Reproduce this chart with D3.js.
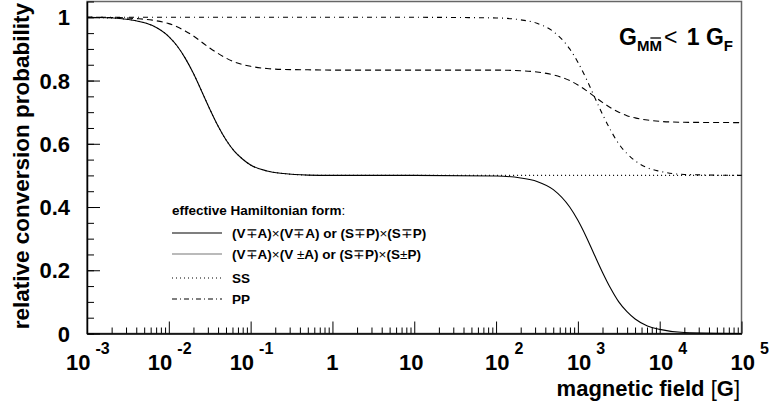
<!DOCTYPE html>
<html><head><meta charset="utf-8">
<script src="https://cdn.jsdelivr.net/npm/d3@7"></script>
<style>
body{margin:0;background:#fff;}
text{font-family:"Liberation Sans",Arial,sans-serif;}
</style></head>
<body><svg id="c" width="769" height="408"></svg>
<script>
// ---- data (log10 of magnetic field in G, relative conversion probability) ----
const logField = [-3,-2.6,-2.4,-2.2,-2.0,-1.9,-1.8,-1.7,-1.6,-1.5,-1.4,-1.3,-1.2,-1.1,-1.0,-0.8,-0.6,-0.3,0,1,2.0,2.3,2.5,2.7,2.9,3.0,3.1,3.2,3.3,3.4,3.5,3.6,3.7,3.85,4.0,4.3,5.0];
const vaSame = [1,0.996,0.989,0.974,0.939,0.910,0.871,0.823,0.767,0.710,0.657,0.612,0.577,0.552,0.533,0.514,0.506,0.501,0.5,0.5,0.498,0.492,0.481,0.455,0.40,0.358,0.307,0.25,0.194,0.143,0.10,0.069,0.046,0.024,0.013,0.003,0];
const vaOpp  = [1,0.999,0.996,0.991,0.98,0.97,0.957,0.941,0.922,0.903,0.886,0.871,0.859,0.851,0.845,0.838,0.835,0.834,0.833,0.833,0.833,0.831,0.827,0.818,0.80,0.786,0.769,0.75,0.731,0.714,0.70,0.689,0.682,0.675,0.671,0.668,0.667];
const ssVals = [1,0.996,0.989,0.974,0.939,0.910,0.871,0.823,0.767,0.710,0.657,0.612,0.577,0.552,0.533,0.514,0.506,0.501,0.5,0.5,0.5,0.5,0.5,0.5,0.5,0.5,0.5,0.5,0.5,0.5,0.5,0.5,0.5,0.5,0.5,0.5,0.5];
const ppVals = [1,1,1,1,1,1,1,1,1,1,1,1,1,1,1,1,1,1,1,1,0.998,0.992,0.981,0.955,0.90,0.858,0.807,0.75,0.694,0.643,0.60,0.569,0.546,0.524,0.513,0.503,0.5];
const xDecades = [-3,-2,-1,0,1,2,3,4,5];
const yMajor = [0,0.2,0.4,0.6,0.8,1];
const yLabels = ["0","0.2","0.4","0.6","0.8","1"];

const svg = d3.select("#c");
const L=87, R=741.5, T=1.5, B=333.5;
const x = d3.scaleLog().domain([1e-3,1e5]).range([L,R]);
const y = d3.scaleLinear().domain([0,1.05]).range([B,T]);

// frame (top/right)
svg.append("rect").attr("x",L).attr("y",T).attr("width",R-L).attr("height",B-T)
  .attr("fill","none").attr("stroke","#666").attr("stroke-width",1.5);

// x ticks
const minorX=[];
xDecades.slice(0,-1).forEach(d=>{for(let m=2;m<=9;m++)minorX.push(m*Math.pow(10,d));});
const majorX = xDecades.map(d=>Math.pow(10,d));
svg.append("g").attr("transform",`translate(0,${B})`)
  .call(d3.axisBottom(x).tickValues(minorX).tickSize(-6).tickFormat(""))
  .call(g=>g.select(".domain").remove());
svg.append("g").attr("transform",`translate(0,${B})`)
  .call(d3.axisBottom(x).tickValues(majorX).tickSize(-12).tickSizeOuter(0).tickFormat(""))
  .call(g=>g.select(".domain").attr("stroke-width",1.5));

// y ticks
const minorY=d3.range(0,1.0501,0.05);
svg.append("g").attr("transform",`translate(${L},0)`)
  .call(d3.axisLeft(y).tickValues(minorY).tickSize(-7).tickFormat(""))
  .call(g=>g.select(".domain").remove());
svg.append("g").attr("transform",`translate(${L},0)`)
  .call(d3.axisLeft(y).tickValues(yMajor).tickSize(-13).tickSizeOuter(0).tickFormat(""))
  .call(g=>g.select(".domain").attr("stroke-width",1.5));
svg.selectAll(".tick line").attr("stroke","#000").attr("stroke-width",1);

// y labels
svg.append("g").selectAll("text").data(yMajor).join("text")
  .attr("x",70).attr("y",d=>y(d)+8).attr("text-anchor","end")
  .attr("font-size",22).attr("font-weight","bold").text((d,i)=>yLabels[i]);

// x labels
const xl = svg.append("g").attr("font-weight","bold");
xDecades.forEach(d=>{
  const tx = x(Math.pow(10,d));
  if(d===0){ xl.append("text").attr("x",tx).attr("y",370).attr("text-anchor","middle").attr("font-size",22).text("1"); return; }
  if(d===1){ xl.append("text").attr("x",tx-3).attr("y",370).attr("text-anchor","middle").attr("font-size",22).text("10"); return; }
  const t = xl.append("text").attr("x",tx+(d<0?-21:-11)).attr("y",370).attr("font-size",22);
  t.append("tspan").text("10");
  t.append("tspan").attr("dx",5).attr("dy",-16).attr("font-size",16).text(String(d));
});

// axis titles
svg.append("text").attr("x",740).attr("y",396).attr("text-anchor","end")
  .attr("font-size",22).attr("font-weight","bold")
  .call(t=>{t.append("tspan").text("magnetic field ");
            t.append("tspan").attr("font-weight","normal").text("[");
            t.append("tspan").text("G");
            t.append("tspan").attr("font-weight","normal").text("]");});
svg.append("text").attr("transform","translate(29,3) rotate(-90)").attr("text-anchor","end")
  .attr("font-size",22.5).attr("font-weight","bold").text("relative conversion probability");

// curves
const series = [
  {vals:vaSame, dash:null},
  {vals:vaOpp, dash:"6,4"},
  {vals:ssVals, dash:"1,3"},
  {vals:ppVals, dash:"5,4,1,4"}
];
const line = d3.line().x(d=>x(Math.pow(10,d[0]))).y(d=>y(d[1])).curve(d3.curveMonotoneX);
const plot = svg.append("g");
series.forEach(s=>{
  plot.append("path").datum(logField.map((l,i)=>[l,s.vals[i]]))
    .attr("d",line).attr("fill","none").attr("stroke","#000").attr("stroke-width",1.1)
    .attr("stroke-dasharray",s.dash);
});

// legend
const leg = svg.append("g").attr("font-weight","bold").attr("font-size",13.5);
leg.append("text").attr("x",172).attr("y",215).call(t=>{
  t.append("tspan").text("effective Hamiltonian form");
  t.append("tspan").attr("font-weight","normal").text(":");
});
const legItems = [
  {parts:[["(V",1],["∓",0],["A)",1],["×",0],["(V",1],["∓",0],["A) or (S",1],["∓",0],["P)",1],["×",0],["(S",1],["∓",0],["P)",1]], dash:null, color:"#000", y:238},
  {parts:[["(V",1],["∓",0],["A)",1],["×",0],["(V ",1],["±",0],["A) or (S",1],["∓",0],["P)",1],["×",0],["(S",1],["±",0],["P)",1]], dash:null, color:"#777", y:259},
  {parts:[["SS",1]], dash:"1,3", color:"#000", y:283},
  {parts:[["PP",1]], dash:"5,3,1,3", color:"#000", y:304}
];
legItems.forEach(it=>{
  leg.append("line").attr("x1",172).attr("x2",222).attr("y1",it.y-5).attr("y2",it.y-5)
    .attr("stroke",it.color).attr("stroke-width",1.1).attr("stroke-dasharray",it.dash);
  const t = leg.append("text").attr("x",232).attr("y",it.y);
  it.parts.forEach(p=>t.append("tspan").attr("font-weight",p[1]?"bold":"normal").text(p[0]));
});

// annotation
const ann = svg.append("text").attr("x",619).attr("y",45).attr("font-weight","bold").attr("font-size",23);
ann.append("tspan").text("G");
ann.append("tspan").attr("dy",6).attr("font-size",15).text("MM");
ann.append("tspan").attr("dy",-6).attr("font-weight","normal").attr("dx",2).text("<");
ann.append("tspan").attr("dx",3).text(" 1 G");
ann.append("tspan").attr("dy",6).attr("font-size",15).text("F");
const e = ann.node().getExtentOfChar(2);
svg.append("line").attr("x1",e.x+1).attr("x2",e.x+e.width-1).attr("y1",e.y+1).attr("y2",e.y+1)
  .attr("stroke","#000").attr("stroke-width",1.3);
</script></body></html>
